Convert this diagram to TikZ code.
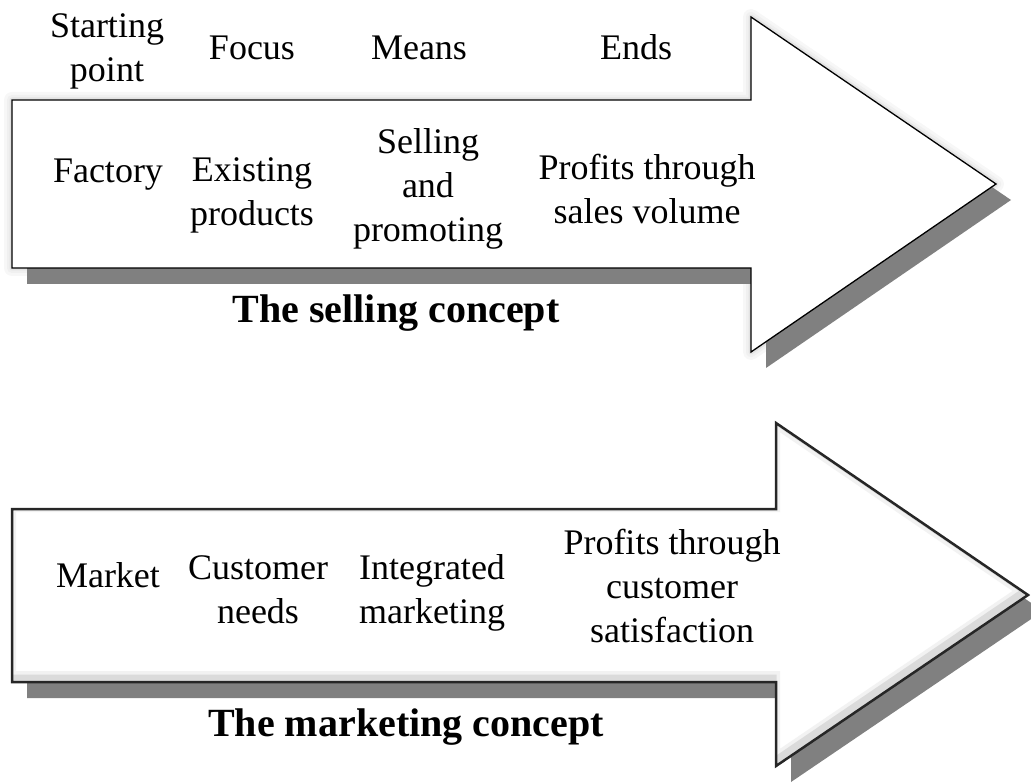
\documentclass[tikz,border=0pt]{standalone}
\usepackage{fontspec}
\setmainfont{Liberation Serif}

\begin{document}
\begin{tikzpicture}[x=1pt,y=-1pt,
			word/.style={inner sep=0pt,align=center,font=\fontsize{36}{44}\selectfont},
			heading/.style={inner sep=0pt,font=\fontsize{40}{46}\selectfont\bfseries},
			drop/.style={fill=gray},
			body/.style={fill=white,draw=black,line width=1.3pt,line join=miter}]
			\useasboundingbox (0,0) rectangle (1031,783);
			% the selling concept
			\foreach \w/\c in {16/6,10/12,5/22}
				\draw[line width=\w pt,gray!\c,line join=round] (12,100) -- (751,100) -- (751,17) -- (996,184) -- (751,352) -- (751,268) -- (12,268) -- cycle;
			\fill[drop,shift={(15,16)}] (12,100) -- (751,100) -- (751,17) -- (996,184) -- (751,352) -- (751,268) -- (12,268) -- cycle;
			\path[body] (12,100) -- (751,100) -- (751,17) -- (996,184) -- (751,352) -- (751,268) -- (12,268) -- cycle;
			\node (start) [word] at (107,51) {Starting\\point};
			\node (focus) [word,anchor=base] at (252,60) {Focus};
			\node (means) [word,anchor=base] at (419,60) {Means};
			\node (ends) [word,anchor=base] at (636,60) {Ends};
			\node (factory) [word,anchor=base] at (108,183) {Factory};
			\node (existing) [word] at (252,195) {Existing\\products};
			\node (selling) [word] at (428,189) {Selling\\and\\promoting};
			\node (volume) [word] at (647,189) {Profits through\\sales volume};
			\node (sellcon) [heading,anchor=base] at (396,323) {The selling concept};
			% the marketing concept
			\fill[drop,shift={(15,16)}] (12,509) -- (776,509) -- (776,423) -- (1028,595) -- (776,766) -- (776,682) -- (12,682) -- cycle;
			\fill[white] (12,509) -- (776,509) -- (776,423) -- (1028,595) -- (776,766) -- (776,682) -- (12,682) -- cycle;
			\begin{scope}
				\clip (12,509) -- (776,509) -- (776,423) -- (1028,595) -- (776,766) -- (776,682) -- (12,682) -- cycle;
				\foreach \w/\c in {14/10,7/28}
					\draw[line width=\w pt,gray!\c,shift={(-3,-4)}] (12,509) -- (776,509) -- (776,423) -- (1028,595) -- (776,766) -- (776,682) -- (12,682) -- cycle;
			\end{scope}
			\draw[line width=2.5pt,black!85,line join=miter] (12,509) -- (776,509) -- (776,423) -- (1028,595) -- (776,766) -- (776,682) -- (12,682) -- cycle;
			\node (market) [word,anchor=base] at (108,587) {Market};
			\node (needs) [word] at (258,590) {Customer\\needs};
			\node (integrated) [word] at (432,593) {Integrated\\marketing};
			\node (satisfaction) [word] at (672,586) {Profits through\\customer\\satisfaction};
			\node (markcon) [heading,anchor=base] at (406,736) {The marketing concept};
		\end{tikzpicture}
\end{document}
